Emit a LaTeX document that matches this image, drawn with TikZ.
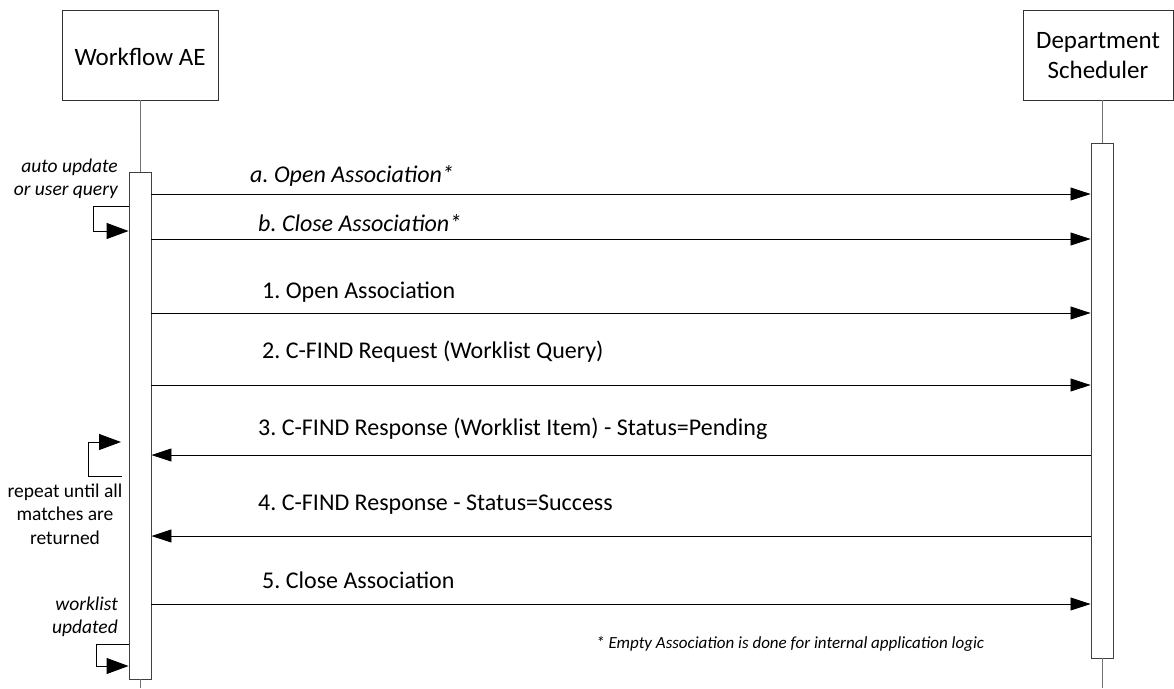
\documentclass[tikz,border=0pt]{standalone}
\usepackage{fontspec}
\setmainfont{Carlito}
\usetikzlibrary{arrows.meta}
\frenchspacing
\begin{document}
\begin{tikzpicture}[x=1pt,y=-1pt,
  actor/.style={draw=black!80,line width=0.9pt,fill=white,minimum width=156pt,minimum height=90pt,inner sep=0pt},
  act/.style={draw=black!75,line width=0.9pt,fill=white,minimum width=22pt,inner sep=0pt},
  life/.style={draw=black!55,line width=1pt},
  msg/.style={draw=black,line width=0.8pt,-{Triangle[length=20pt,width=13pt]}},
  lbl/.style={anchor=base west,inner sep=0pt,font=\fontsize{24}{28}\selectfont},
  ilbl/.style={lbl,font=\fontsize{24}{28}\selectfont\itshape},
  actorname/.style={anchor=base,inner sep=0pt,font=\fontsize{25}{30}\selectfont},
  note/.style={inner sep=0pt,anchor=base east,font=\fontsize{19.5}{22}\selectfont\itshape},
  rnote/.style={inner sep=0pt,anchor=base,font=\fontsize{19.5}{22}\selectfont},
  selfarr/.style={draw=black,line width=1pt,-{Triangle[length=22pt,width=16pt]}}]
\useasboundingbox (0,0) rectangle (1174,688);
% actors
\node[actor] (wf) at (140,55) {};
\node[actorname] (wft) at (140,65) {Workflow AE};
\node[actor,minimum width=150pt] (ds) at (1098,55) {};
\node[actorname] (dst1) at (1098,48) {Department};
\node[actorname] (dst2) at (1098,78) {Scheduler};
% activation boxes
\node[act,minimum height=507pt] (actL) at (140,425.5) {};
\node[act,minimum height=515pt] (actR) at (1102,400.5) {};
% lifelines
\draw[life] (wf.south) -- (actL.north);
\draw[life] (actL.south) -- (140,688);
\draw[life] (ds.south -| actR.north) -- (actR.north);
\draw[life] (actR.south) -- (1102,688);
% messages
\draw[msg] (actL.east |- {0,194}) -- (actR.west |- {0,194});
\node[ilbl] (la) at (250,182) {a. Open Association*};
\draw[msg] (actL.east |- {0,239}) -- (actR.west |- {0,239});
\node[ilbl] (lb) at (258,231) {b. Close Association*};
\draw[msg] (actL.east |- {0,313}) -- (actR.west |- {0,313});
\node[lbl] (l1) at (262,298) {1. Open Association};
\draw[msg] (actL.east |- {0,385}) -- (actR.west |- {0,385});
\node[lbl] (l2) at (262,358) {2. C-FIND Request (Worklist Query)};
\draw[msg] (actR.west |- {0,455}) -- (actL.east |- {0,455});
\node[lbl] (l3) at (258,435) {3. C-FIND Response (Worklist Item) - Status=Pending};
\draw[msg] (actR.west |- {0,536}) -- (actL.east |- {0,536});
\node[lbl] (l4) at (258,510) {4. C-FIND Response - Status=Success};
\draw[msg] (actL.east |- {0,604}) -- (actR.west |- {0,604});
\node[lbl] (l5) at (262,588) {5. Close Association};
% self arrows
\node[note] (n1) at (118,172) {auto update};
\node[note] (n1b) at (118,195) {or user query};
\draw[selfarr] (actL.west |- {0,206}) -- (93,206) -- (93,231) -- (actL.west |- {0,231});
\draw[selfarr] (122,476) -- (88,476) -- (88,442) -- (121,442);
\node[rnote] (n2a) at (65,497) {repeat until all};
\node[rnote] (n2b) at (65,520) {matches are};
\node[rnote] (n2c) at (65,544) {returned};
\node[note] (n3) at (118,610) {worklist};
\node[note] (n3b) at (118,633) {updated};
\draw[selfarr] (actL.west |- {0,644}) -- (96,644) -- (96,666) -- (actL.west |- {0,666});
% footnote
\node[inner sep=0pt,anchor=base west,font=\fontsize{17}{20}\selectfont\itshape] (fn) at (596,648) {* Empty Association is done for internal application logic};
\end{tikzpicture}
\end{document}
